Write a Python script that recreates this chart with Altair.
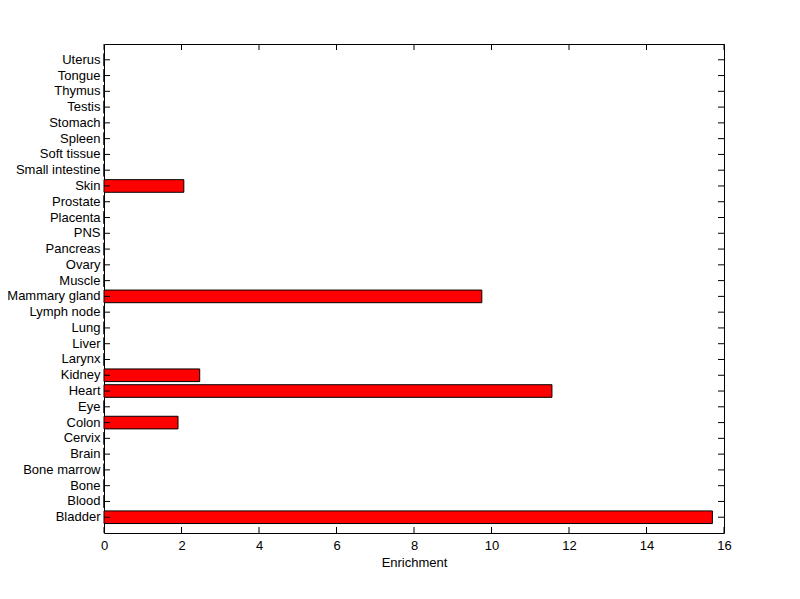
import altair as alt
import pandas as pd

categories = ["Bladder", "Blood", "Bone", "Bone marrow", "Brain", "Cervix", "Colon", "Eye",
              "Heart", "Kidney", "Larynx", "Liver", "Lung", "Lymph node", "Mammary gland",
              "Muscle", "Ovary", "Pancreas", "PNS", "Placenta", "Prostate", "Skin",
              "Small intestine", "Soft tissue", "Spleen", "Stomach", "Testis", "Thymus",
              "Tongue", "Uterus"]
values = [15.7, 0, 0, 0, 0, 0, 1.91, 0,
          11.56, 2.47, 0, 0, 0, 0, 9.75,
          0, 0, 0, 0, 0, 0, 2.06,
          0, 0, 0, 0, 0, 0,
          0, 0]
x_ticks = [0, 2, 4, 6, 8, 10, 12, 14, 16]

W, H = 620, 489
FONT = "Liberation Sans"
FS = 13

df = pd.DataFrame({"Category": categories, "Enrichment": values})
tick_df = pd.DataFrame({"t": x_ticks})
order = list(reversed(categories))

yscale = alt.Scale(domain=order, paddingInner=0.2, paddingOuter=0.6)
xscale = alt.Scale(domain=[0, 16], nice=False, zero=True)

bars = alt.Chart(df).mark_bar(color="#ff0000", stroke="black", strokeWidth=1).encode(
    x=alt.X("Enrichment:Q", scale=xscale,
            axis=alt.Axis(values=x_ticks, grid=False, ticks=False, domain=False,
                          labelFlush=False, labelOverlap=False,
                          labelPadding=6, labelFontSize=FS, labelFont=FONT,
                          labelColor="black", title="Enrichment", titleFont=FONT,
                          titleFontSize=FS, titleFontWeight="normal", titleColor="black",
                          titlePadding=4)),
    y=alt.Y("Category:N", scale=yscale, sort=order,
            axis=alt.Axis(title=None, ticks=False, domain=False, grid=False,
                          labelPadding=4, labelFontSize=FS, labelFont=FONT,
                          labelColor="black")),
)

ytick_l = alt.Chart(df).mark_rule(color="black", strokeWidth=1).encode(
    y=alt.Y("Category:N", scale=yscale, sort=order),
    x=alt.value(0), x2=alt.value(6))
ytick_r = alt.Chart(df).mark_rule(color="black", strokeWidth=1).encode(
    y=alt.Y("Category:N", scale=yscale, sort=order),
    x=alt.value(W), x2=alt.value(W - 6))
xtick_b = alt.Chart(tick_df).mark_rule(color="black", strokeWidth=1).encode(
    x=alt.X("t:Q", scale=xscale), y=alt.value(H), y2=alt.value(H - 6))
xtick_t = alt.Chart(tick_df).mark_rule(color="black", strokeWidth=1).encode(
    x=alt.X("t:Q", scale=xscale), y=alt.value(0), y2=alt.value(6))

chart = alt.layer(bars, ytick_l, ytick_r, xtick_b, xtick_t).properties(
    width=W, height=H,
    autosize=alt.AutoSizeParams(type="none"),
    padding={"left": 96, "top": 36, "right": 60, "bottom": 50},
    background="white",
).configure_view(stroke="black", strokeWidth=1)

chart.save("out.html", embed_options={"renderer": "svg", "actions": False})
